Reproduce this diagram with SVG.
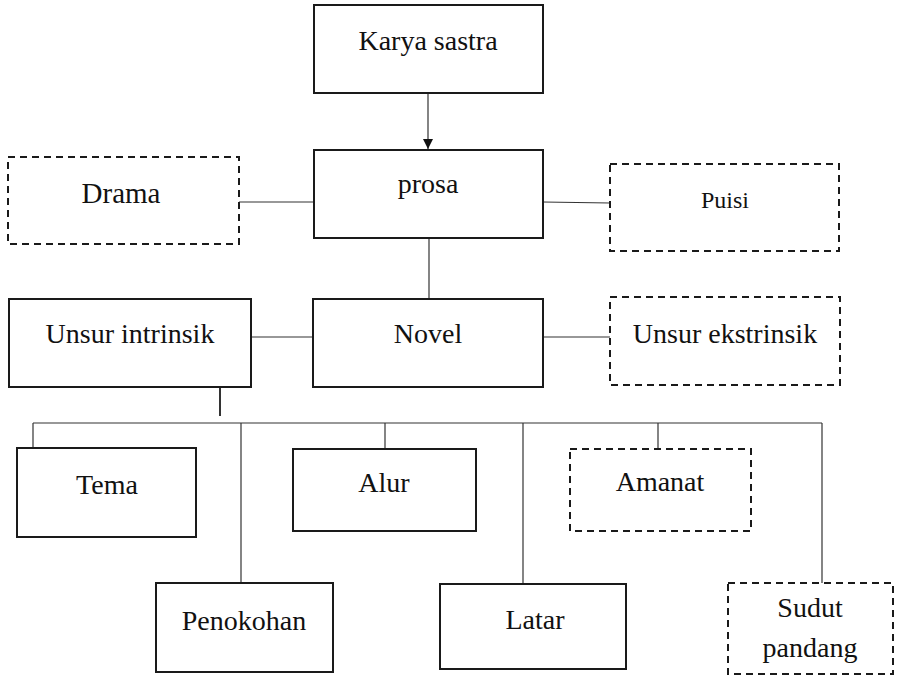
<svg xmlns="http://www.w3.org/2000/svg" width="902" height="675" viewBox="0 0 902 675">
<defs>
<style>
.box{fill:#fff;stroke:#1a1a1a;stroke-width:2}
.dash{fill:#fff;stroke:#1a1a1a;stroke-width:2;stroke-dasharray:7 5}
.t{font-family:"Liberation Serif","Times New Roman",serif;font-size:28px;fill:#111;text-anchor:middle}
.ln{stroke:#333;stroke-width:1.2;fill:none}
</style>
<marker id="ah" viewBox="0 0 10 10" refX="10" refY="5" markerWidth="10" markerHeight="10" markerUnits="userSpaceOnUse" orient="auto">
<path d="M0,0 L10,5 L0,10 z" fill="#111"/>
</marker>
</defs>
<rect width="902" height="675" fill="#fff"/>
<g id="connectors">
<line class="ln" x1="428" y1="93" x2="428" y2="149" marker-end="url(#ah)"/>
<line class="ln" x1="239" y1="202" x2="314" y2="202"/>
<line class="ln" x1="543" y1="202" x2="610" y2="203"/>
<line class="ln" x1="429" y1="238" x2="429" y2="299"/>
<line class="ln" x1="251" y1="337" x2="313" y2="337"/>
<line class="ln" x1="543" y1="337" x2="610" y2="337"/>
<line x1="220" y1="387" x2="220" y2="416" stroke="#333" stroke-width="2"/>
<line class="ln" x1="33" y1="423" x2="822" y2="423"/>
<line class="ln" x1="33" y1="423" x2="33" y2="448"/>
<line class="ln" x1="241" y1="423" x2="241" y2="583"/>
<line class="ln" x1="385" y1="423" x2="385" y2="449"/>
<line class="ln" x1="523" y1="423" x2="523" y2="584"/>
<line class="ln" x1="658" y1="423" x2="658" y2="449"/>
<line class="ln" x1="822" y1="423" x2="822" y2="583"/>
</g>
<g id="karya-sastra"><rect class="box" x="314" y="5" width="229" height="88"/><text class="t" x="428" y="50">Karya sastra</text></g>
<g id="prosa"><rect class="box" x="314" y="150" width="229" height="88"/><text class="t" x="428" y="193">prosa</text></g>
<g id="drama"><rect class="dash" x="8" y="157" width="231" height="87"/><text class="t" x="121" y="203" style="font-size:29px">Drama</text></g>
<g id="puisi"><rect class="dash" x="610" y="164" width="229" height="87"/><text class="t" x="725" y="208" style="font-size:24px">Puisi</text></g>
<g id="novel"><rect class="box" x="313" y="299" width="230" height="88"/><text class="t" x="428" y="343">Novel</text></g>
<g id="unsur-intrinsik"><rect class="box" x="9" y="299" width="242" height="88"/><text class="t" x="130" y="343">Unsur intrinsik</text></g>
<g id="unsur-ekstrinsik"><rect class="dash" x="610" y="297" width="230" height="88"/><text class="t" x="725" y="343">Unsur ekstrinsik</text></g>
<g id="tema"><rect class="box" x="17" y="448" width="179" height="89"/><text class="t" x="107" y="494">Tema</text></g>
<g id="alur"><rect class="box" x="293" y="449" width="183" height="82"/><text class="t" x="384" y="492">Alur</text></g>
<g id="amanat"><rect class="dash" x="570" y="449" width="181" height="82"/><text class="t" x="660" y="491">Amanat</text></g>
<g id="penokohan"><rect class="box" x="156" y="583" width="177" height="89"/><text class="t" x="244" y="630">Penokohan</text></g>
<g id="latar"><rect class="box" x="440" y="584" width="186" height="85"/><text class="t" x="535" y="629">Latar</text></g>
<g id="sudut-pandang"><rect class="dash" x="728" y="583" width="165" height="91"/><text class="t" x="810" y="617">Sudut</text><text class="t" x="810" y="657">pandang</text></g>
</svg>
